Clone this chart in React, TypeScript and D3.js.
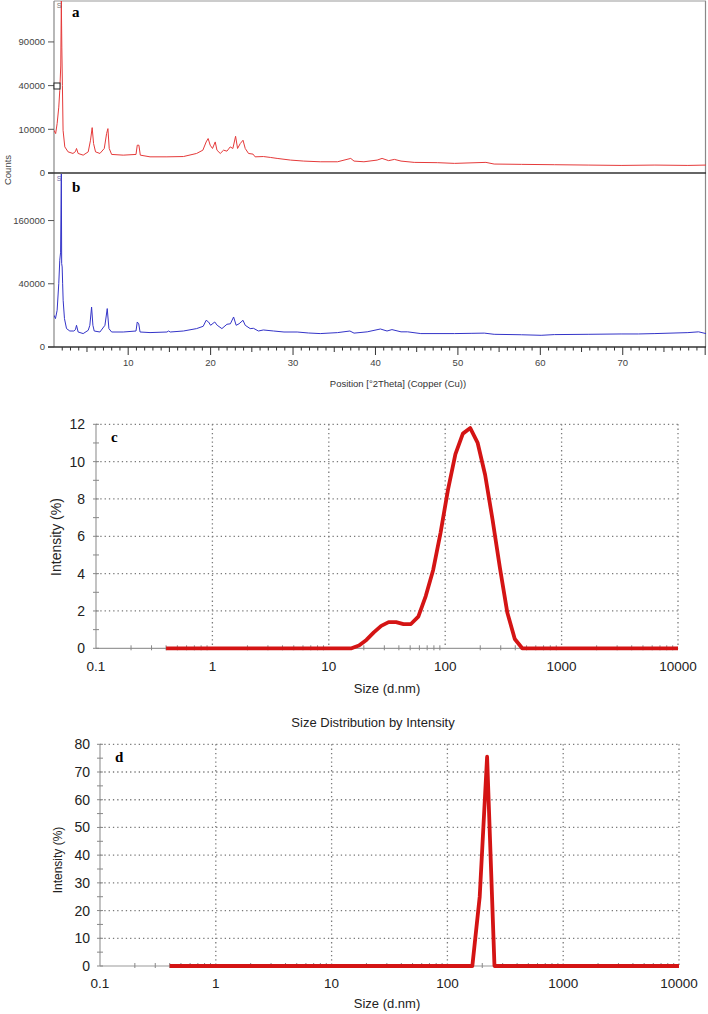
import React from 'react';
import * as d3 from 'd3';

// ---------- XRD data (2θ in degrees, counts) ----------
const xrdTicksA = [0, 10000, 40000, 90000];
const xrdTicksB = [0, 40000, 160000];
const xrdXTicks = [10, 20, 30, 40, 50, 60, 70];

const xrdRed: [number, number][] = [
  [1.0, 9550], [1.2, 8140], [1.38, 12760], [1.58, 22700], [1.7, 35600], [1.82, 60000], [1.89, 155000],
  [1.95, 82000], [2.02, 40000], [2.1, 9550], [2.31, 3570], [2.71, 2340], [3.3, 2000], [3.6, 2400],
  [3.73, 3150], [3.93, 2000], [4.54, 1670], [5.15, 2340], [5.43, 5625], [5.63, 10780], [5.8, 4556],
  [6.04, 2340], [6.57, 2000], [7.1, 3150], [7.38, 8140], [7.54, 10320], [7.7, 3150], [7.99, 1806],
  [9.4, 1670], [10.95, 1806], [11.1, 4050], [11.3, 4050], [11.47, 1670], [12.65, 1370], [14.7, 1370],
  [16.7, 1420], [18.3, 2000], [19.06, 2730], [19.46, 5060], [19.7, 6220], [19.95, 4050], [20.23, 3150],
  [20.56, 5060], [20.77, 2730], [21.17, 2000], [21.57, 2730], [21.98, 2500], [22.38, 3570], [22.7, 3150],
  [23.03, 7070], [23.27, 3150], [23.6, 4556], [23.93, 5625], [24.2, 3150], [24.6, 2000], [25.15, 1865],
  [25.4, 1370], [26.4, 1420], [27.25, 1270], [28.07, 1115], [29.7, 873], [31.3, 744], [33.3, 660],
  [35.4, 660], [37.0, 1115], [37.4, 744], [38.6, 660], [40.2, 873], [40.8, 1115], [41.6, 800],
  [42.3, 970], [43.1, 744], [44.7, 590], [47.5, 560], [49.6, 485], [53.4, 590], [54.4, 420],
  [57.7, 390], [61.7, 360], [65.8, 330], [69.8, 300], [73.9, 330], [77.9, 300], [80.1, 330],
];

const xrdBlue: [number, number][] = [
  [1.0, 10060], [1.18, 8080], [1.38, 13490], [1.58, 40250], [1.7, 75300], [1.8, 90000], [1.89, 303000],
  [1.93, 70000], [1.99, 64100], [2.05, 40000], [2.11, 21840], [2.27, 8080], [2.52, 3390], [2.92, 2560],
  [3.4, 2560], [3.6, 3000], [3.73, 4720], [3.93, 2250], [4.54, 1800], [5.15, 2790], [5.35, 4720],
  [5.56, 16000], [5.72, 4720], [5.88, 2560], [6.57, 2250], [7.18, 4720], [7.46, 14770], [7.66, 3390],
  [7.99, 2250], [9.4, 2250], [10.95, 2560], [11.1, 6260], [11.28, 5400], [11.44, 2250], [12.65, 2080],
  [14.7, 2250], [14.9, 2560], [15.1, 2250], [16.7, 2560], [18.3, 3390], [19.1, 4290], [19.46, 7140],
  [19.75, 6260], [20.0, 4720], [20.5, 6260], [20.8, 4720], [21.37, 3390], [21.98, 5160], [22.4, 5400],
  [22.79, 9010], [23.1, 4720], [23.45, 5400], [23.93, 7140], [24.2, 4720], [24.8, 3390], [25.2, 3500],
  [25.8, 2560], [26.4, 2900], [27.65, 2560], [28.9, 2250], [30.5, 2250], [31.9, 1960], [33.3, 1800],
  [35.4, 2070], [36.9, 2560], [37.4, 1930], [39.0, 2300], [40.6, 3245], [41.4, 2560], [42.0, 3030],
  [43.1, 2300], [43.9, 2300], [45.5, 1800], [49.6, 1800], [51.6, 1870], [53.2, 1930], [54.4, 1615],
  [57.7, 1500], [60.1, 1370], [61.7, 1540], [65.8, 1615], [69.8, 1700], [71.9, 1700], [73.9, 1800],
  [77.9, 2070], [79.2, 2300], [80.1, 1800],
];

// ---------- DLS data (size d.nm, intensity %) ----------
const dlsXTicks = [0.1, 1, 10, 100, 1000, 10000];
const dlsCYTicks = [0, 2, 4, 6, 8, 10, 12];
const dlsDYTicks = [0, 10, 20, 30, 40, 50, 60, 70, 80];

const dlsCSize = [0.4, 15.69, 18.17, 21.04, 24.36, 28.21, 32.67, 37.84, 43.82, 50.75, 58.77, 68.06,
  78.82, 91.28, 105.7, 122.4, 141.8, 164.2, 190.1, 220.2, 255, 295.3, 342, 396.1, 458.7, 10000];
const dlsCIntensity = [0, 0, 0.15, 0.45, 0.85, 1.2, 1.4, 1.4, 1.3, 1.3, 1.7, 2.8,
  4.2, 6.2, 8.5, 10.4, 11.5, 11.8, 11.0, 9.3, 6.9, 4.3, 1.9, 0.5, 0, 0];

const dlsDSize = [0.4, 164.2, 190.1, 220.2, 255, 10000];
const dlsDIntensity = [0, 0, 25, 75.5, 0, 0];

const SANS = '"Liberation Sans", Arial, sans-serif';
const SERIF = '"Liberation Serif", "Times New Roman", serif';

function XRD() {
  const x = d3.scaleLinear().domain([1, 80.1]).range([54, 706]);
  const yA = d3.scaleSqrt().domain([0, 155000]).range([173, 1]);
  const yB = d3.scaleSqrt().domain([0, 303000]).range([347, 173]);
  const lineA = d3.line<[number, number]>().x(d => x(d[0])).y(d => yA(d[1]));
  const lineB = d3.line<[number, number]>().x(d => x(d[0])).y(d => yB(d[1]));
  const minor = d3.range(2, 81);
  return (
    <g>
      <defs>
        <clipPath id="clipA"><rect x={54} y={1} width={652} height={172} /></clipPath>
        <clipPath id="clipB"><rect x={54} y={174} width={652} height={173} /></clipPath>
      </defs>
      {/* frame */}
      <line x1={54} x2={706} y1={1} y2={1} stroke="#999" strokeWidth={1} />
      <line x1={705.5} x2={705.5} y1={1} y2={347} stroke="#888" strokeWidth={1.2} />
      <line x1={54} x2={54} y1={1} y2={347} stroke="#888" strokeWidth={1.2} />
      {/* curves */}
      <path d={lineA(xrdRed) || ''} fill="none" stroke="#e53a3a" strokeWidth={1} clipPath="url(#clipA)" />
      <path d={lineB(xrdBlue) || ''} fill="none" stroke="#3434c8" strokeWidth={1} clipPath="url(#clipB)" />
      {/* separators / axes */}
      <line x1={48} x2={706} y1={173} y2={173} stroke="#333" strokeWidth={1.4} />
      <line x1={48} x2={706} y1={347} y2={347} stroke="#333" strokeWidth={1.4} />
      {/* y ticks A */}
      {xrdTicksA.map(t => (
        <g key={'a' + t}>
          <line x1={48} x2={54} y1={yA(t)} y2={yA(t)} stroke="#555" />
          <text x={45} y={yA(t)} dy="0.35em" textAnchor="end" fontSize={9.5} fill="#444" fontFamily={SANS}>{t}</text>
        </g>
      ))}
      {xrdTicksB.map(t => (
        <g key={'b' + t}>
          <line x1={48} x2={54} y1={yB(t)} y2={yB(t)} stroke="#555" />
          <text x={45} y={yB(t)} dy="0.35em" textAnchor="end" fontSize={9.5} fill="#444" fontFamily={SANS}>{t}</text>
        </g>
      ))}
      {/* x ticks */}
      {minor.map(t => {
        const len = t % 10 === 0 ? 8 : t % 5 === 0 ? 5 : 3.5;
        return <line key={'xm' + t} x1={x(t)} x2={x(t)} y1={347} y2={347 + len} stroke="#333" strokeWidth={1} />;
      })}
      {xrdXTicks.map(t => (
        <text key={'xl' + t} x={x(t)} y={366} textAnchor="middle" fontSize={9.5} fill="#444" fontFamily={SANS}>{t}</text>
      ))}
      <text x={398} y={387} textAnchor="middle" fontSize={9.5} fill="#333" fontFamily={SANS}>Position [°2Theta] (Copper (Cu))</text>
      <text transform="translate(11,170) rotate(-90)" textAnchor="middle" fontSize={9.5} fill="#444" fontFamily={SANS}>Counts</text>
      {/* markers */}
      <rect x={54} y={83} width={6} height={6} fill="#fff" stroke="#222" strokeWidth={1} />
      <text x={59} y={8} textAnchor="middle" fontSize={7} fill="#777" fontFamily={SANS}>S</text>
      <text x={59} y={181} textAnchor="middle" fontSize={7} fill="#66a" fontFamily={SANS}>S</text>
      <text x={72} y={17} fontSize={15} fontWeight="bold" fontFamily={SERIF} fill="#000">a</text>
      <text x={72} y={192} fontSize={15} fontWeight="bold" fontFamily={SERIF} fill="#000">b</text>
    </g>
  );
}

type DlsProps = {
  x0: number; x1: number; yTop: number; yBot: number; yMax: number;
  yTicks: number[]; yMinorStep: number; sizes: number[]; vals: number[];
  letter: string; letterY: number; yTitleSize: number; yTitleY: number; yTitleX: number;
  xLabelY: number; xTitleY: number; labelRight: number;
};

function DLS(p: DlsProps) {
  const x = d3.scaleLog().domain([0.1, 10000]).range([p.x0, p.x1]);
  const y = d3.scaleLinear().domain([0, p.yMax]).range([p.yBot, p.yTop]);
  const pts: [number, number][] = p.sizes.map((s, i) => [s, p.vals[i]]);
  const line = d3.line<[number, number]>().x(d => x(d[0])).y(d => y(d[1]));
  const minorY = d3.range(0, p.yMax + 0.001, p.yMinorStep);
  const minorX: number[] = [];
  [0.1, 1, 10, 100, 1000].forEach(dec => { for (let k = 2; k <= 9; k++) minorX.push(dec * k); });
  const grid = '#7a7a7a';
  return (
    <g>
      {/* dotted grid */}
      {p.yTicks.filter(t => t > 0).map(t => (
        <line key={'gy' + t} x1={p.x0} x2={p.x1} y1={y(t)} y2={y(t)} stroke={grid} strokeWidth={1.3} strokeDasharray="1.3 3" />
      ))}
      {dlsXTicks.filter(t => t > 0.1).map(t => (
        <line key={'gx' + t} x1={x(t)} x2={x(t)} y1={p.yTop} y2={p.yBot} stroke={grid} strokeWidth={1.3} strokeDasharray="1.3 3" />
      ))}
      {/* axes */}
      <line x1={p.x0} x2={p.x0} y1={p.yTop} y2={p.yBot} stroke="#9a9a9a" strokeWidth={1.2} />
      <line x1={p.x0} x2={p.x1} y1={p.yBot} y2={p.yBot} stroke="#9a9a9a" strokeWidth={1.2} />
      {minorY.map(t => (
        <line key={'ty' + t} x1={p.x0 - 3} x2={p.x0 + 3} y1={y(t)} y2={y(t)} stroke="#888" strokeWidth={1} />
      ))}
      {minorX.map(t => (
        <line key={'tx' + t} x1={x(t)} x2={x(t)} y1={p.yBot - 3} y2={p.yBot + 2} stroke="#888" strokeWidth={1} />
      ))}
      {/* curve */}
      <path d={line(pts) || ''} fill="none" stroke="#d41414" strokeWidth={3.8} strokeLinejoin="round" strokeLinecap="butt" />
      {/* labels */}
      {p.yTicks.map(t => (
        <text key={'yl' + t} x={p.labelRight} y={y(t)} dy="0.36em" textAnchor="end" fontSize={14} fill="#222" fontFamily={SANS}>{t}</text>
      ))}
      {dlsXTicks.map(t => (
        <text key={'xl' + t} x={x(t)} y={p.xLabelY} dy="0.36em" textAnchor="middle" fontSize={13.5} fill="#222" fontFamily={SANS}>{String(t)}</text>
      ))}
      <text x={387} y={p.xTitleY} dy="0.36em" textAnchor="middle" fontSize={13} fill="#222" fontFamily={SANS}>Size (d.nm)</text>
      <text transform={`translate(${p.yTitleX},${p.yTitleY}) rotate(-90)`} textAnchor="middle" fontSize={p.yTitleSize} fill="#222" fontFamily={SANS}>Intensity (%)</text>
      <text x={p.x0 + 15} y={p.letterY} fontSize={15} fontWeight="bold" fontFamily={SERIF} fill="#000">{p.letter}</text>
    </g>
  );
}

export default function App() {
  return (
    <svg width={708} height={1014} viewBox="0 0 708 1014"
      style={{ position: 'absolute', left: 0, top: 0, background: '#fff' }}>
      <rect x={0} y={0} width={708} height={1014} fill="#fff" />
      <XRD />
      <DLS x0={96} x1={678} yTop={424.3} yBot={648.3} yMax={12} yTicks={dlsCYTicks} yMinorStep={1}
        sizes={dlsCSize} vals={dlsCIntensity} letter="c" letterY={442} yTitleSize={14} yTitleY={537} yTitleX={61}
        xLabelY={666} xTitleY={688} labelRight={85} />
      <text x={373} y={722} dy="0.36em" textAnchor="middle" fontSize={13} fill="#222" fontFamily={SANS}>Size Distribution by Intensity</text>
      <DLS x0={100} x1={679} yTop={744.3} yBot={966} yMax={80} yTicks={dlsDYTicks} yMinorStep={5}
        sizes={dlsDSize} vals={dlsDIntensity} letter="d" letterY={762} yTitleSize={12} yTitleY={860} yTitleX={62}
        xLabelY={983} xTitleY={1003} labelRight={90} />
    </svg>
  );
}
